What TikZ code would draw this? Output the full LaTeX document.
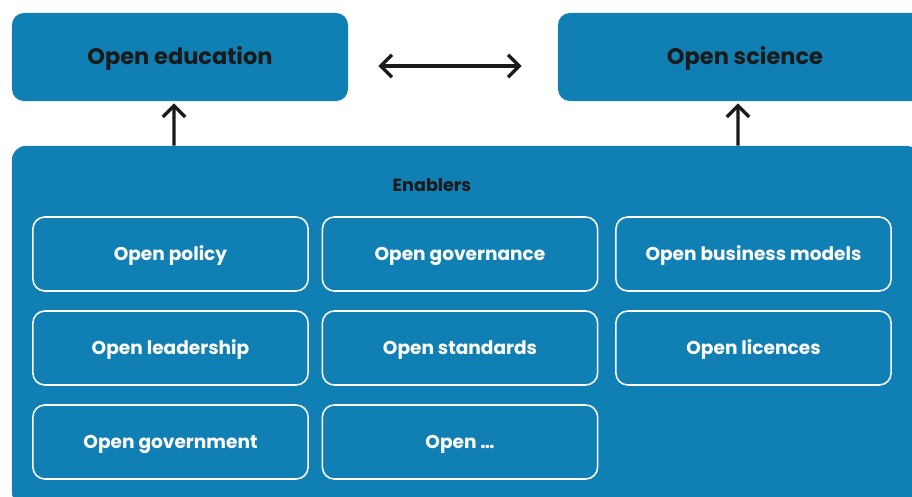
\documentclass[tikz,border=0pt]{standalone}
\usepackage{fontspec}
\setmainfont{Poppins}
\usetikzlibrary{positioning,arrows.meta,calc}
\definecolor{oblue}{HTML}{1080B4}
\definecolor{oink}{HTML}{1A1A1A}

\begin{document}
\begin{tikzpicture}[x=0.025cm,y=-0.025cm]
            \tikzset{
                topbox/.style={fill=oblue,rounded corners=0.3cm,minimum height=2.2cm,
                    font=\fontsize{16}{18}\selectfont\bfseries,text=oink,inner sep=0pt,
                    text height=1.9ex,text depth=0pt},
                enabler/.style={draw=white,line width=1.1pt,rounded corners=0.3cm,
                    minimum width=6.88cm,minimum height=1.85cm,inner sep=0pt,
                    font=\fontsize{13.2}{15}\selectfont\bfseries,text=white,
                    text height=1.7ex,text depth=0pt},
                arr/.style={line width=2.4pt,oink,
                    {Straight Barb[length=2.8mm,width=5.6mm,line width=2.4pt]}-{Straight Barb[length=2.8mm,width=5.6mm,line width=2.4pt]}},
                uparr/.style={line width=2.4pt,oink,-{Straight Barb[length=2.8mm,width=5.6mm,line width=2.4pt]}},}
            \useasboundingbox (0,0) rectangle (912,497);
            \clip (0,0) rectangle (912,497);
            \node[topbox,minimum width=8.4cm] (edu) at (180,57) {Open education};
            \node[topbox,minimum width=9.35cm] (sci) at (745,57) {Open science};
            \node[fill=oblue,rounded corners=0.35cm,minimum width=22.7cm,minimum height=9.0cm,
                inner sep=0pt] (enab) at (466,326) {};
            \node[font=\fontsize{12.5}{14}\selectfont\bfseries,text=oink,
                text height=1.7ex,text depth=0pt] (title) at (432,185) {Enablers};
            % three columns of enablers
            \node[enabler] (policy) at (170.5,254) {Open policy};
            \node[enabler] (lead) at (170.5,348) {Open leadership};
            \node[enabler] (govt) at (170.5,442) {Open government};
            \node[enabler] (gov) at (460,254) {Open governance};
            \node[enabler] (std) at (460,348) {Open standards};
            \node[enabler] (more) at (460,442) {Open \dots};
            \node[enabler] (biz) at (753.5,254) {Open business models};
            \node[enabler] (lic) at (753.5,348) {Open licences};
            \draw[arr] ([xshift=0.75cm,yshift=-0.225cm]edu.east) -- ([xshift=-0.9cm,yshift=-0.225cm]sci.west);
            \draw[uparr] (enab.north -| 174,0) -- ([xshift=-0.15cm,yshift=-0.05cm]edu.south);
            \draw[uparr] (enab.north -| 738,0) -- ([xshift=-0.175cm,yshift=-0.05cm]sci.south);
        \end{tikzpicture}
\end{document}
